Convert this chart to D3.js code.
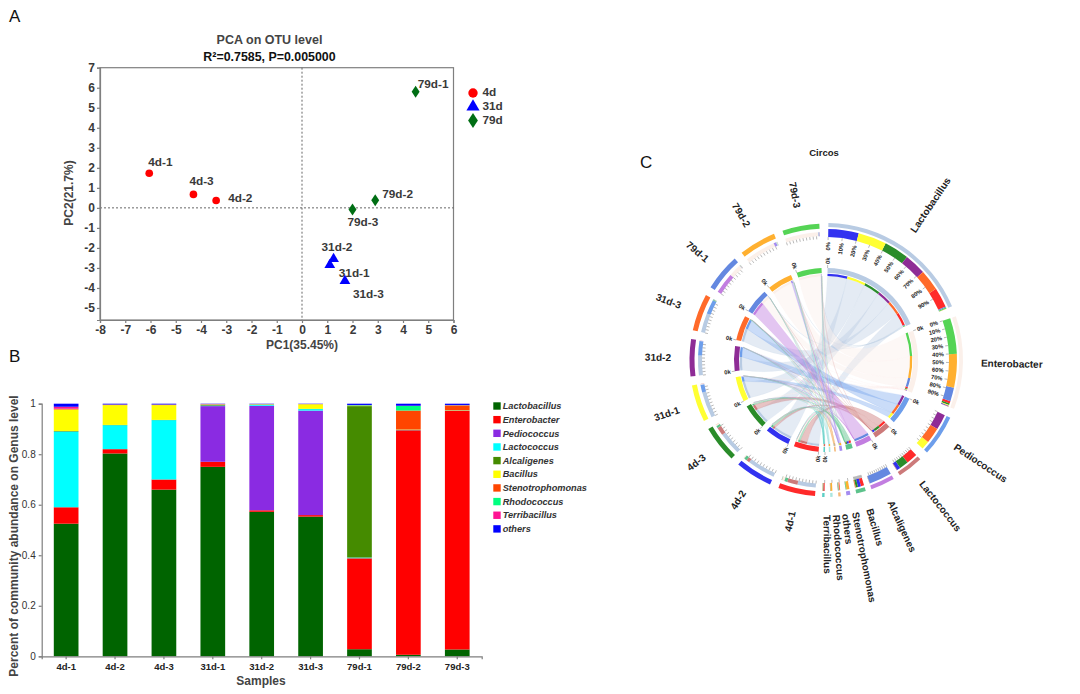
<!DOCTYPE html>
<html><head><meta charset="utf-8">
<script src="https://d3js.org/d3.v7.min.js"></script>
<style>
html,body{margin:0;padding:0;background:#fff}
svg{display:block}
text{font-family:"Liberation Sans",Arial,sans-serif}
</style></head><body>
<svg id="c" width="1080" height="694"></svg>
<script>
// ---------- data: PCA ----------
const pcaNames = ["4d-1","4d-2","4d-3","31d-1","31d-2","31d-3","79d-1","79d-2","79d-3"];
const pc1 = [-6.05,-3.4,-4.3,1.1,1.25,1.7,4.5,2.9,2.0];
const pc2 = [1.73,0.37,0.67,-2.85,-2.55,-3.65,5.8,0.38,-0.08];
const pcaGroup = ["4d","4d","4d","31d","31d","31d","79d","79d","79d"];
const pcaGroups = ["4d","31d","79d"];
const xTicksPca = d3.range(-8,7);
const yTicksPca = d3.range(-5,8);

// ---------- data: community composition ----------
const samples = ["4d-1","4d-2","4d-3","31d-1","31d-2","31d-3","79d-1","79d-2","79d-3"];
const genera = ["Lactobacillus","Enterobacter","Pediococcus","Lactococcus","Alcaligenes","Bacillus","Stenotrophomonas","Rhodococcus","Terribacillus","others"];
const lactobacillus    = [.525,.803,.66,.75,.572,.553,.028,.006,.027];
const enterobacter     = [.065,.017,.04,.02,.006,.006,.36,.889,.946];
const pediococcus      = [0,0,0,.2205,.4137,.4137,0,0,0];
const lactococcus      = [.30,.095,.235,.002,.004,.006,.003,.001,.001];
const alcaligenes      = [.002,.001,.001,.003,.001,.001,.5995,.001,0];
const bacillus         = [.085,.0785,.0585,.001,.001,.018,.001,.001,.001];
const stenotrophomonas = [.002,.001,.001,.001,.0005,.0005,.001,.075,.018];
const rhodococcus      = [.001,.0005,.0005,.0005,.0003,.0003,.002,.018,.001];
const terribacillus    = [.008,.001,.001,.001,.0005,.0005,.0005,.001,.001];
const others           = [.012,.003,.003,.001,.001,.001,.005,.008,.005];
const yTicksBar = [0,.2,.4,.6,.8,1];
const percentLabels = ["0%","10%","20%","30%","40%","50%","60%","70%","80%","90%"];

// ---------- styles and placement ----------
const generaSeries = [lactobacillus,enterobacter,pediococcus,lactococcus,alcaligenes,bacillus,stenotrophomonas,rhodococcus,terribacillus,others];
const barColors = ["#006400","#ff0000","#8a2be2","#00ffff","#458b00","#ffff00","#ff4500","#00ff7f","#ff1493","#0000ff"];
const groupColors = {"4d":"#ff0000","31d":"#0000ff","79d":"#006e14"};
const labelOffsets = [[-1,-7],[12,1.5],[-4,-9],[9,12],[-12,-8],[8,17],[2,-4],[7,-2],[-5,17]];
const ink = "#3a3a3a";

const svg = d3.select("#c");
function label(x,y,t,o={}){
  const e = svg.append("text").attr("x",x).attr("y",y).text(t)
    .attr("font-size",o.size||12).attr("font-weight",o.weight||"bold").attr("fill",o.fill||ink)
    .attr("text-anchor",o.anchor||"start");
  if(o.style) e.attr("font-style",o.style);
  if(o.rotate!==undefined) e.attr("transform",`rotate(${o.rotate} ${x} ${y})`);
  return e;
}
label(9,22,"A",{size:17,weight:"normal",fill:"#111"});
label(9,362,"B",{size:17,weight:"normal",fill:"#111"});
label(640,168,"C",{size:17,weight:"normal",fill:"#111"});

// ---------- A: PCA ----------
const px = d3.scaleLinear().domain([-8,6]).range([100,453.5]);
const py = d3.scaleLinear().domain([-5.6,7]).range([320,67.7]);
function styleAxis(g,size,weight,fill){
  g.selectAll("path,line").attr("stroke","#7f7f7f").attr("stroke-width",1.2);
  g.selectAll("text").attr("font-size",size).attr("font-weight",weight).attr("fill",fill)
    .attr("font-family",'"Liberation Sans",Arial,sans-serif');
}
svg.append("rect").attr("x",px(-8)).attr("y",py(7)).attr("width",px(6)-px(-8)).attr("height",py(-5.6)-py(7))
  .attr("fill","none").attr("stroke","#7f7f7f").attr("stroke-width",1.2);
svg.append("line").attr("x1",px(0)).attr("x2",px(0)).attr("y1",py(7)).attr("y2",py(-5.6))
  .attr("stroke","#666").attr("stroke-width",1).attr("stroke-dasharray","2,2");
svg.append("line").attr("x1",px(-8)).attr("x2",px(6)).attr("y1",py(0)).attr("y2",py(0))
  .attr("stroke","#666").attr("stroke-width",1).attr("stroke-dasharray","2,2");
svg.append("g").attr("transform",`translate(0,${py(-5.6)})`)
  .call(d3.axisBottom(px).tickValues(xTicksPca).tickSize(3).tickPadding(2).tickFormat(d=>String(d)))
  .call(g=>styleAxis(g,12,"bold",ink));
svg.append("g").attr("transform",`translate(${px(-8)},0)`)
  .call(d3.axisLeft(py).tickValues(yTicksPca).tickSize(3).tickPadding(2).tickFormat(d=>String(d)))
  .call(g=>styleAxis(g,12,"bold",ink));
label(269.5,44,"PCA on OTU level",{anchor:"middle",size:12.5,fill:"#444"});
label(269.5,61,"R²=0.7585, P=0.005000",{anchor:"middle",size:12.4,fill:"#111"});
label(302,349,"PC1(35.45%)",{anchor:"middle",size:12,fill:"#444"});
label(73,193,"PC2(21.7%)",{anchor:"middle",size:12,fill:"#444",rotate:-90});

const symbolFor = {"4d":d3.symbolCircle,"31d":d3.symbolTriangle,"79d":d3.symbolDiamond};
const symSize = {"4d":46,"31d":50,"79d":38};
const symStretch = {"4d":[1,1],"31d":[1,1],"79d":[1.2,1.05]};
function drawSym(x,y,g,scale=1){
  svg.append("path").attr("d",d3.symbol().type(symbolFor[g]).size(symSize[g]*scale)())
    .attr("transform",`translate(${x},${y}) scale(${symStretch[g][0]},${symStretch[g][1]})`).attr("fill",groupColors[g]);
}
pcaNames.forEach((n,i)=>{
  const x=px(pc1[i]),y=py(pc2[i]);
  drawSym(x,y,pcaGroup[i]);
  label(x+labelOffsets[i][0],y+labelOffsets[i][1],n,{size:11.8});
});
const legY = d3.scalePoint().domain(pcaGroups).range([93,120.5]);
pcaGroups.forEach(g=>{
  drawSym(473,legY(g),g,1.5);
  label(482.5,legY(g)+3,g,{size:11.8});
});

// ---------- B: stacked bars ----------
const bx = d3.scaleBand().domain(samples).range([41.7,481.7]).paddingInner(.495).paddingOuter(.2475);
const by = d3.scaleLinear().domain([0,1]).range([656.3,403.7]);
const rows = samples.map((s,i)=>{const r={sample:s};genera.forEach((g,j)=>r[g]=generaSeries[j][i]);return r;});
const stacked = d3.stack().keys(genera)(rows);
svg.append("g").selectAll("g").data(stacked).join("g").attr("fill",(d,i)=>barColors[i])
  .selectAll("rect").data(d=>d).join("rect")
  .attr("x",d=>bx(d.data.sample)).attr("width",bx.bandwidth())
  .attr("y",d=>by(d[1])).attr("height",d=>Math.max(0,by(d[0])-by(d[1])));
svg.append("g").attr("transform","translate(0,656.3)")
  .call(d3.axisBottom(bx).tickSize(3).tickPadding(4).tickSizeOuter(3))
  .call(g=>styleAxis(g,9.5,"bold","#222"));
svg.append("g").attr("transform","translate(41.7,0)")
  .call(d3.axisLeft(by).tickValues(yTicksBar).tickSize(3).tickPadding(3).tickFormat(d=>d))
  .call(g=>styleAxis(g,10,"normal","#333"));
label(261,685,"Samples",{anchor:"middle",size:12,fill:"#444"});
label(18,536,"Percent of community abundance on Genus level",{anchor:"middle",size:12,fill:"#444",rotate:-90});
const ly = d3.scalePoint().domain(genera).range([406,528.9]);
genera.forEach((g,i)=>{
  svg.append("rect").attr("x",493.3).attr("y",ly(g)-3.7).attr("width",7.4).attr("height",7.4).attr("fill",barColors[i]);
  label(502.7,ly(g)+3.2,g,{size:9.2,style:"italic",fill:"#333"});
});

// ---------- C: circos ----------
const sampleColors = ["#ff2a2a","#3232f0","#2a8c2a","#ffff33","#8e2c96","#ff6a2a","#6488e0","#ffb030","#55d455"];
const taxaColors = ["#b8cbe3","#fbf0ea","#6d9eeb","#cc7a7a","#c27ee0","#5cc28b","#a58cf0","#f5b878","#a8e6df","#5ccfc5"];
const taxaOrder = ["Lactobacillus","Enterobacter","Pediococcus","Lactococcus","Alcaligenes","Bacillus","Stenotrophomonas","others","Rhodococcus","Terribacillus"];
const taxaGaps = [4.5,4,4,3,2.5,2.5,2.4,2.4,2.4,3];
const ribbonOpacity = [.38,.45,.36,.45,.45,.45,.5,.6,.6,.6];
const deg = Math.PI/180;
const cx=826, cy=360;
const C = svg.append("g").attr("transform",`translate(${cx},${cy})`);
label(cx-2,156,"Circos",{anchor:"middle",size:9.5,fill:"#222"});

const startA = 1*deg, minUnits = .06, taxaPerUnit = 16.8*deg, sampleGap = 3.8*deg;
const taxaRows = taxaOrder.map((n,j)=>{const v=generaSeries[genera.indexOf(n)];return {name:n,vals:v,total:d3.sum(v),color:taxaColors[j],kind:"t"};});
const sampleRows = samples.map((s,i)=>({name:s,i,total:d3.sum(generaSeries,v=>v[i]),color:sampleColors[i],kind:"s"}));
let a0 = startA;
taxaRows.forEach((t,j)=>{t.a0=a0;t.a1=a0+Math.max(t.total,minUnits)*taxaPerUnit;a0=t.a1+taxaGaps[j]*deg;});
const sampleSpan = (2*Math.PI+startA-a0-samples.length*sampleGap)/samples.length;
sampleRows.forEach(s=>{s.a0=a0;s.a1=a0+sampleSpan;a0=s.a1+sampleGap;});
const sectors = taxaRows.concat(sampleRows);

// largest link first inside every sector
const segT = taxaRows.map(t=>{
  const sc=d3.scaleLinear().domain([0,t.total]).range([t.a0,t.a1]);
  let acc=0;const m={};
  d3.range(samples.length).sort((x,y)=>t.vals[y]-t.vals[x]).forEach(i=>{
    m[i]={a0:sc(acc),a1:sc(acc+t.vals[i]),color:sampleColors[i],v:t.vals[i]};acc+=t.vals[i];
  });
  return m;
});
const segS = sampleRows.map(s=>{
  const sc=d3.scaleLinear().domain([0,s.total]).range([s.a0,s.a1]);
  let acc=0;const m={};
  d3.range(taxaRows.length).sort((x,y)=>taxaRows[y].vals[s.i]-taxaRows[x].vals[s.i]).forEach(j=>{
    const v=taxaRows[j].vals[s.i];
    m[j]={a0:sc(acc),a1:sc(acc+v),color:taxaRows[j].color,v};acc+=v;
  });
  return m;
});

const arc = d3.arc();
const ring=(a,b,r0,r1,fill)=>C.append("path").attr("d",arc({innerRadius:r0,outerRadius:r1,startAngle:a,endAngle:b})).attr("fill",fill);

// ribbons bend through a point a little below the circle centre
const ribR = 84, ctrlX = -3, ctrlY = 22;
function ribbonPath(A,B){
  const p=d3.path();
  const pt=a=>[ribR*Math.sin(a),-ribR*Math.cos(a)];
  const s0=pt(A.a0),t0=pt(B.a0);
  p.moveTo(s0[0],s0[1]);
  p.arc(0,0,ribR,A.a0-Math.PI/2,A.a1-Math.PI/2);
  p.quadraticCurveTo(ctrlX,ctrlY,t0[0],t0[1]);
  p.arc(0,0,ribR,B.a0-Math.PI/2,B.a1-Math.PI/2);
  p.quadraticCurveTo(ctrlX,ctrlY,s0[0],s0[1]);
  p.closePath();
  return p.toString();
}
const gR = C.append("g");
taxaRows.forEach((t,j)=>{
  samples.forEach((_,i)=>{
    if(t.vals[i]<=0) return;
    gR.append("path").attr("d",ribbonPath(segT[j][i],segS[i][j]))
      .attr("fill",t.color).attr("fill-opacity",ribbonOpacity[j])
      .attr("stroke",t.color).attr("stroke-opacity",.35).attr("stroke-width",.3);
  });
});

function radialText(a,r,t,o={}){
  const ad=a/deg, x=r*Math.sin(a), y=-r*Math.cos(a);
  const right = Math.sin(a)>=-0.001;
  const rot = right ? ad-90 : ad+90;
  const anchor = o.flip ? (right?"end":"start") : (right?"start":"end");
  C.append("text").attr("transform",`translate(${x},${y}) rotate(${rot})`)
    .attr("text-anchor",anchor).attr("dy",".35em").text(t)
    .attr("font-size",o.size).attr("font-weight",o.weight||"bold").attr("fill",o.fill||"#222");
}
function tick(a,r0,r1,c="#8a8a8a"){
  C.append("line").attr("x1",r0*Math.sin(a)).attr("y1",-r0*Math.cos(a))
    .attr("x2",r1*Math.sin(a)).attr("y2",-r1*Math.cos(a)).attr("stroke",c).attr("stroke-width",.6);
}

sectors.forEach((s,idx)=>{
  const isT = s.kind==="t";
  const segs = isT ? Object.values(segT[idx]) : Object.values(segS[idx-taxaRows.length]);
  ring(s.a0,s.a1,isT?133:131.5,isT?137:136.5,s.color);
  const inR = isT?123:124, outR = isT?131:128;
  segs.forEach(q=>{ if(q.v>0) ring(q.a0,q.a1,inR,outR,q.color); });
  const span = s.a1-s.a0;
  const nTicks = span>3*deg ? 10 : 1;
  d3.range(nTicks).forEach(k=>{
    const a=s.a0+span*k/10;
    tick(a,inR,inR-3);
    if(isT && (s.name==="Lactobacillus"||s.name==="Enterobacter")){
      radialText(a,inR-5,percentLabels[k],{size:5.8,flip:true});
    }
  });
  ring(s.a0,s.a1,87,92,s.color);
  segs.forEach(q=>{ if(q.v>0) ring(q.a0,q.a1,84,86.3,q.color); });
  if(span>6*deg || s.name==="Terribacillus"){
    tick(s.a0,92,95);
    radialText(s.a0,96,"0k",{size:5.8});
  }
  radialText((s.a0+s.a1)/2-(span<6*deg?1.5*deg:0),155,s.name,{size:10,fill:"#222"});
});
</script>
</body></html>
